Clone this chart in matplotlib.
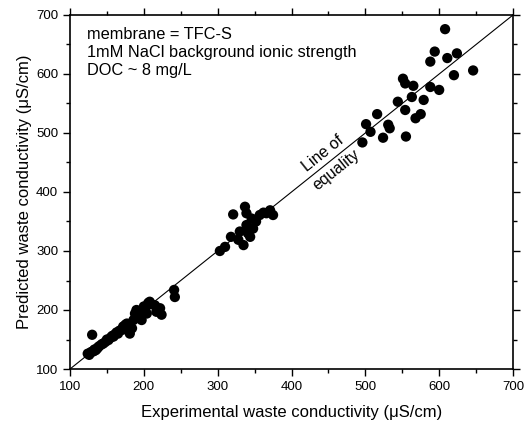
import matplotlib
matplotlib.use("Agg")
import matplotlib.pyplot as plt
from matplotlib.ticker import MultipleLocator

plt.rcParams['font.family'] = ['Liberation Sans', 'DejaVu Sans']

# experimental vs predicted waste conductivity (uS/cm)
exp_cond = [124, 126, 128, 129, 130, 132, 133, 135, 137, 138, 140, 143, 145, 148, 150,
            152, 155, 157, 159, 160, 163, 165, 167, 170, 172, 175, 177, 181, 184, 186,
            188, 190, 195, 197, 200, 202, 204, 206, 208, 210, 215, 217, 222, 224, 241, 242,
            303, 310, 318, 321, 328, 330, 335, 337, 339, 339, 341, 344, 346, 348, 352, 357,
            362, 366, 371, 375,
            496, 501, 507, 516, 524, 531, 533, 544, 551, 554, 554, 555, 563, 565, 568,
            575, 579, 588, 588, 594, 600, 608, 611, 620, 624, 646]
pred_cond = [126, 124, 128, 129, 158, 130, 133, 132, 135, 137, 139, 142, 143, 146, 150,
             149, 153, 156, 155, 158, 162, 160, 165, 166, 172, 175, 177, 160, 169, 183,
             194, 200, 197, 183, 206, 203, 194, 212, 214, 210, 208, 197, 203, 192, 234, 222,
             300, 307, 324, 362, 319, 333, 310, 375, 364, 344, 330, 324, 355, 338, 350, 361,
             365, 364, 369, 361,
             484, 515, 502, 532, 492, 514, 508, 553, 592, 584, 539, 494, 561, 580, 525,
             532, 556, 578, 621, 638, 573, 676, 627, 598, 635, 606]

equality = [100, 700]

fig = plt.figure(figsize=(5.27, 4.26), dpi=100)
ax = fig.add_axes([70 / 527, 1 - 369 / 426, 443 / 527, 354 / 426])

ax.plot(equality, equality, color='black', lw=0.8, zorder=1)
ax.scatter(exp_cond, pred_cond, s=55, color='black', edgecolors='none', zorder=2)

ax.set_xlim(100, 700)
ax.set_ylim(100, 700)
ax.xaxis.set_major_locator(MultipleLocator(100))
ax.xaxis.set_minor_locator(MultipleLocator(50))
ax.yaxis.set_major_locator(MultipleLocator(100))
ax.yaxis.set_minor_locator(MultipleLocator(50))
ax.tick_params(which='both', direction='out', top=True, right=True,
               labelsize=9.5, width=1.0)
ax.tick_params(which='major', length=5)
ax.tick_params(which='minor', length=3)
for sp in ax.spines.values():
    sp.set_linewidth(1.2)

ax.set_xlabel('Experimental waste conductivity (\u03bcS/cm)', fontsize=12, labelpad=9)
ax.set_ylabel('Predicted waste conductivity (\u03bcS/cm)', fontsize=12, labelpad=3)

ax.text(0.038, 0.965, 'membrane = TFC-S\n1mM NaCl background ionic strength\nDOC ~ 8 mg/L',
        transform=ax.transAxes, fontsize=11.8, va='top', ha='left', linespacing=1.25)

ax.text(452, 452, 'Line of\nequality', fontsize=11.5, rotation=38.6,
        rotation_mode='anchor', ha='center', va='center', linespacing=1.5)

fig.savefig('out.png', dpi=100)
